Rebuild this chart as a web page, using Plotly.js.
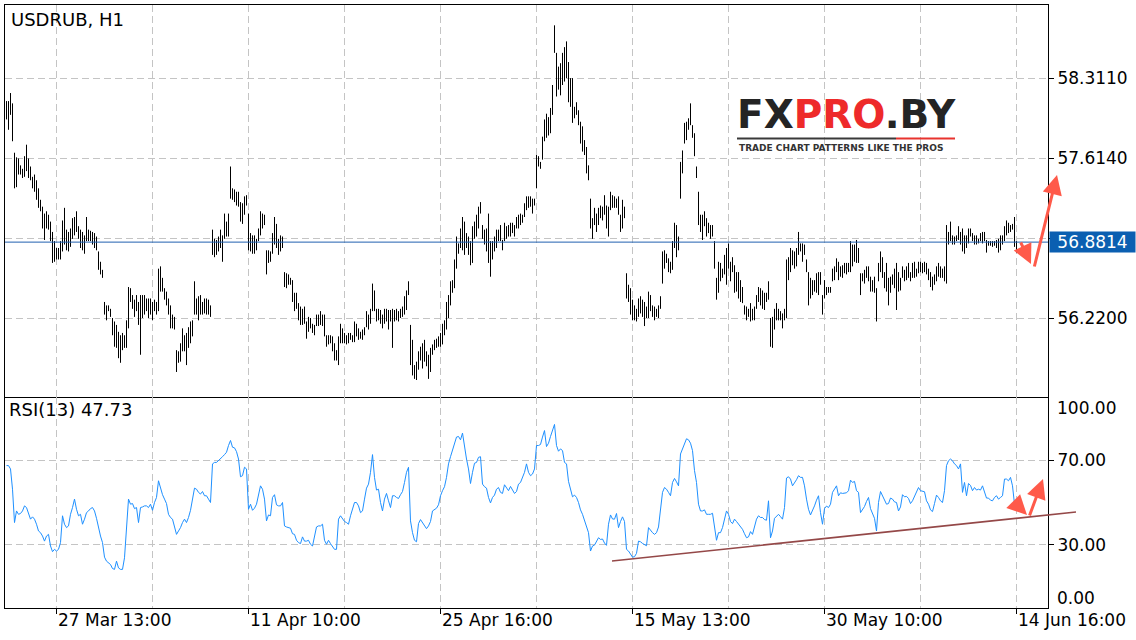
<!DOCTYPE html>
<html><head><meta charset="utf-8">
<script src="https://cdn.plot.ly/plotly-3.0.1.min.js"></script>
<style>html,body{margin:0;padding:0;background:#fff;} #chart{width:1136px;height:640px;}</style>
</head><body><div id="chart"></div>
<script>
const symbolTitle = "USDRUB, H1";
const rsiLabel = "RSI(13) 47.73";
const lastPrice = 56.8814;

// H1 bar highs / lows (only the high-low range is visible at this chart scale)
const highs = [
58.11,58.11,58.18,58.09,57.66,57.62,57.61,57.55,57.52,57.63,
57.73,57.61,57.54,57.45,57.47,57.42,57.35,57.25,57.19,57.13,
57.15,57.12,57.06,56.97,56.89,56.83,56.83,56.89,57.07,57.18,
56.99,56.97,57.00,57.09,57.10,57.15,57.02,56.99,56.97,56.94,
57.10,56.99,56.98,56.97,56.96,56.93,56.80,56.71,56.64,56.36,
56.33,56.33,56.30,56.22,56.19,56.16,56.10,56.07,56.09,56.07,
56.20,56.49,56.48,56.42,56.38,56.42,56.36,56.42,56.42,56.42,
56.39,56.39,56.39,56.36,56.38,56.36,56.65,56.67,56.57,56.48,
56.45,56.39,56.33,56.25,56.23,55.94,55.93,56.00,56.13,56.07,
56.09,56.14,56.19,56.20,56.54,56.39,56.41,56.42,56.36,56.39,
56.39,56.38,56.33,56.99,56.91,56.90,56.93,56.99,56.94,57.13,
57.06,57.13,57.54,57.35,57.34,57.32,57.32,57.23,57.22,57.28,
57.29,57.13,56.96,56.94,56.94,56.91,57.00,57.15,57.13,57.12,
56.81,56.81,56.80,56.96,57.10,57.04,56.91,56.94,56.93,56.62,
56.61,56.60,56.57,56.55,56.44,56.44,56.35,56.32,56.30,56.32,
56.19,56.23,56.22,56.17,56.16,56.25,56.25,56.28,56.25,56.25,
56.07,56.07,56.07,56.06,56.00,55.94,56.06,56.17,56.13,56.09,
56.07,56.09,56.09,56.07,56.19,56.17,56.13,56.10,56.12,56.14,
56.28,56.25,56.30,56.52,56.46,56.30,56.30,56.29,56.25,56.30,
56.30,56.29,56.29,56.30,56.29,56.30,56.28,56.30,56.32,56.41,
56.46,56.54,56.16,56.03,55.81,55.84,55.93,55.97,56.00,56.03,
55.93,55.90,55.96,55.99,56.03,56.04,56.06,56.09,56.17,56.20,
56.36,56.42,56.54,56.55,56.73,56.93,56.87,57.00,57.10,57.06,
56.96,56.93,56.89,57.02,57.06,57.12,57.19,57.23,57.03,56.99,
57.00,57.13,56.89,56.89,56.93,56.99,56.99,57.03,56.90,57.05,
57.02,57.03,57.05,57.05,57.03,57.10,57.12,57.13,57.12,57.22,
57.28,57.28,57.28,57.26,57.26,57.64,57.63,57.58,57.80,57.95,
58.00,57.97,58.05,58.25,58.77,58.53,58.41,58.44,58.53,58.58,
58.63,58.45,58.31,58.31,58.06,58.10,58.03,57.93,57.89,57.77,
57.71,57.55,57.26,57.09,57.18,57.13,57.18,57.20,57.19,57.29,
57.20,57.19,57.32,57.29,57.28,57.26,57.28,57.12,57.25,57.19,
56.61,56.51,56.48,56.38,56.33,56.30,56.39,56.41,56.38,56.36,
56.32,56.45,56.42,56.33,56.32,56.30,56.33,56.41,56.80,56.81,
56.78,56.74,56.71,56.89,57.05,57.03,56.93,57.58,57.68,57.92,
57.93,57.96,58.09,57.90,57.83,57.54,57.32,57.12,57.12,57.15,
57.09,57.05,57.03,57.03,56.89,56.57,56.71,56.70,56.65,56.77,
56.83,56.87,56.71,56.75,56.68,56.62,56.62,56.55,56.49,56.33,
56.32,56.30,56.35,56.30,56.32,56.42,56.49,56.48,56.46,56.44,
56.44,56.54,56.22,56.23,56.30,56.35,56.30,56.28,56.26,56.30,
56.73,56.75,56.83,56.81,56.80,56.83,56.97,56.87,56.87,56.86,
56.73,56.62,56.57,56.55,56.55,56.61,56.62,56.62,56.42,56.55,
56.49,56.49,56.49,56.65,56.67,56.74,56.71,56.67,56.68,56.70,
56.70,56.70,56.89,56.86,56.86,56.90,56.83,56.61,56.61,56.64,
56.67,56.67,56.58,56.55,56.58,56.48,56.70,56.80,56.75,56.62,
56.70,56.57,56.58,56.60,56.65,56.70,56.62,56.57,56.67,56.64,
56.67,56.70,56.62,56.70,56.71,56.65,56.71,56.71,56.70,56.71,
56.70,56.65,56.62,56.58,56.60,56.67,56.70,56.67,56.65,56.67,
57.03,56.97,57.06,56.94,56.93,56.94,57.02,56.97,57.00,56.94,
56.94,57.00,57.00,56.96,56.94,56.94,56.91,56.96,56.97,56.97,
56.90,56.89,56.89,56.89,56.89,56.90,56.91,56.94,56.94,57.02,
57.07,57.05,57.03,57.04,57.10,56.89
];
const lows = [
57.95,57.86,57.99,57.76,57.35,57.36,57.47,57.47,57.44,57.45,
57.50,57.44,57.42,57.35,57.32,57.25,57.18,57.15,57.00,56.90,
57.00,56.99,56.89,56.70,56.71,56.73,56.73,56.73,56.80,56.86,
56.81,56.80,56.84,56.91,56.94,56.97,56.91,56.83,56.81,56.78,
56.89,56.89,56.89,56.86,56.83,56.81,56.64,56.60,56.57,56.25,
56.20,56.28,56.23,56.07,55.97,55.96,55.87,55.83,55.94,55.96,
55.96,56.13,56.36,56.30,56.23,56.28,56.16,55.90,56.22,56.25,
56.28,56.22,56.25,56.20,56.28,56.25,56.28,56.45,56.45,56.38,
56.33,56.25,56.13,56.13,56.12,55.75,55.83,55.84,55.93,55.93,
55.81,55.96,56.00,56.06,56.25,56.25,56.20,56.25,56.25,56.26,
56.25,56.25,56.23,56.77,56.75,56.77,56.80,56.83,56.71,56.91,
56.93,56.93,57.26,57.25,57.23,57.20,57.19,57.06,57.04,57.12,
57.20,56.81,56.80,56.78,56.78,56.81,56.89,56.94,57.00,57.03,
56.60,56.70,56.71,56.78,56.86,56.83,56.77,56.80,56.83,56.49,
56.48,56.51,56.51,56.36,56.28,56.30,56.20,56.16,56.16,56.17,
56.04,56.10,56.13,56.09,56.07,56.15,56.15,56.16,56.15,56.06,
55.97,55.99,56.00,55.93,55.85,55.85,55.81,56.00,56.00,56.00,
55.99,56.00,56.03,56.01,56.01,56.06,56.03,56.04,56.03,56.07,
56.14,56.12,56.17,56.28,56.28,56.19,56.20,56.17,56.13,56.17,
56.19,56.12,56.19,55.96,56.19,56.20,56.19,56.22,56.23,56.25,
56.29,56.42,55.81,55.72,55.69,55.68,55.77,55.85,55.78,55.84,
55.80,55.69,55.75,55.90,55.94,55.96,55.97,55.97,55.99,56.07,
56.12,56.22,56.33,56.44,56.48,56.65,56.78,56.83,56.81,56.77,
56.83,56.77,56.68,56.70,56.91,56.93,57.00,57.13,56.91,56.86,
56.80,56.70,56.58,56.73,56.80,56.83,56.89,56.89,56.81,56.89,
56.91,56.93,56.93,56.96,56.93,57.00,57.00,57.03,57.05,57.10,
57.16,57.18,57.19,57.13,57.20,57.35,57.54,57.52,57.60,57.76,
57.79,57.81,57.83,57.99,58.53,58.15,58.21,58.16,58.25,58.28,
58.31,58.10,58.06,57.92,57.96,57.99,57.90,57.74,57.67,57.64,
57.48,57.42,57.00,56.91,57.03,56.97,57.03,57.09,57.07,57.12,
57.00,56.93,57.16,57.18,57.18,57.18,57.12,56.97,57.00,57.09,
56.39,56.36,56.25,56.20,56.20,56.19,56.23,56.26,56.23,56.15,
56.22,56.22,56.28,56.23,56.20,56.23,56.22,56.30,56.52,56.65,
56.70,56.62,56.61,56.64,56.83,56.75,56.81,57.26,57.48,57.74,
57.77,57.86,57.90,57.79,57.63,57.44,57.03,56.97,56.90,57.02,
56.93,56.96,56.91,56.93,56.65,56.38,56.44,56.54,56.57,56.60,
56.51,56.65,56.54,56.62,56.44,56.45,56.39,56.36,56.35,56.25,
56.20,56.23,56.19,56.20,56.20,56.30,56.36,56.33,56.30,56.29,
56.36,56.38,55.97,55.96,56.12,56.20,56.20,56.20,56.13,56.20,
56.22,56.55,56.62,56.68,56.65,56.67,56.77,56.80,56.71,56.77,
56.62,56.33,56.39,56.42,56.45,56.44,56.42,56.51,56.25,56.39,
56.42,56.44,56.44,56.54,56.55,56.62,56.55,56.58,56.57,56.61,
56.60,56.62,56.62,56.67,56.71,56.70,56.70,56.42,56.54,56.52,
56.57,56.54,56.45,56.45,56.44,56.19,56.54,56.62,56.57,56.48,
56.45,56.33,56.44,56.51,56.48,56.29,56.45,56.46,56.57,56.54,
56.55,56.57,56.54,56.57,56.57,56.58,56.61,56.62,56.61,56.62,
56.60,56.55,56.49,56.46,56.51,56.54,56.58,56.57,56.57,56.54,
56.52,56.86,56.89,56.86,56.86,56.89,56.90,56.86,56.80,56.78,
56.83,56.87,56.93,56.89,56.86,56.86,56.87,56.89,56.87,56.89,
56.79,56.85,56.85,56.84,56.85,56.83,56.79,56.81,56.86,56.89,
56.94,56.96,56.97,56.99,56.84,56.79
];
// RSI(13), one value per bar
const rsiValues = [
67.5,67.5,65.9,56.3,40.5,46.0,44.4,44.8,46.0,48.4,
47.6,44.4,42.1,43.2,42.1,39.7,36.5,35.7,34.1,31.7,
34.1,34.9,29.4,26.7,27.8,27.0,27.8,31.0,43.7,39.7,
38.1,38.9,44.4,47.6,51.6,46.8,43.7,44.4,39.7,42.1,
45.2,46.0,47.1,47.6,46.0,42.5,38.1,34.1,31.0,24.1,
22.2,21.4,20.6,18.7,18.3,22.2,19.0,18.3,18.3,23.8,
40.5,51.6,49.2,49.5,47.1,47.6,40.5,47.6,47.9,48.4,
48.4,47.6,49.2,46.3,50.0,52.4,60.3,56.8,53.7,51.6,
49.5,44.4,42.9,42.1,38.9,34.9,36.5,38.1,40.5,42.1,
40.5,42.9,46.3,50.8,56.8,56.3,54.8,54.0,55.2,53.2,
53.2,51.6,50.0,68.3,69.0,69.0,69.8,70.6,71.7,72.7,
73.8,77.0,79.4,76.2,75.9,74.1,70.6,62.2,62.7,66.7,
65.9,46.8,49.2,46.3,47.3,49.2,54.0,57.9,56.3,51.6,
41.3,44.1,43.7,52.4,53.7,48.9,48.4,48.4,50.0,38.9,
38.4,38.1,37.8,35.2,34.9,32.1,31.0,30.5,33.7,31.7,
31.7,32.1,30.2,29.4,34.1,38.4,38.9,38.9,39.7,32.1,
30.2,32.1,30.5,29.4,27.8,27.8,42.1,43.7,42.5,41.0,
40.5,39.7,43.7,46.8,50.0,50.0,48.4,45.2,46.0,51.6,
56.8,58.7,64.3,72.7,61.9,55.9,56.3,50.0,46.0,51.6,
54.3,50.8,47.6,53.2,53.2,52.4,51.9,53.7,55.2,59.5,
64.3,66.7,41.3,35.7,32.1,31.4,40.0,41.9,40.5,38.6,
37.6,38.9,41.0,46.0,46.8,47.3,48.9,53.2,55.6,57.5,
61.9,68.3,71.7,74.6,78.6,81.0,81.3,79.7,82.9,76.2,
70.6,65.9,59.0,64.3,68.6,69.0,71.4,71.7,58.7,57.5,
56.8,52.4,49.8,52.4,53.5,56.3,57.1,54.8,54.3,58.4,
56.8,55.6,57.6,55.9,54.3,55.2,58.7,59.5,61.6,64.3,
68.3,64.3,62.7,63.5,65.9,77.0,77.0,77.5,81.0,84.1,
76.5,78.1,81.3,84.4,87.0,77.0,74.3,75.4,74.6,69.0,
68.3,60.0,55.9,52.7,53.5,52.4,50.0,46.5,44.4,41.3,
39.2,35.7,27.0,29.4,29.8,31.4,33.3,32.5,32.7,30.8,
29.7,39.7,44.1,42.2,42.1,44.8,38.1,41.0,43.2,41.0,
27.8,27.0,25.4,24.1,24.3,25.9,31.7,31.4,30.6,30.2,
29.5,38.1,36.8,35.7,34.9,35.7,38.4,46.8,54.8,57.1,
56.3,54.8,53.2,59.5,61.4,59.8,57.9,73.0,75.4,78.3,
80.2,79.7,78.1,74.6,65.1,59.5,49.2,46.0,46.0,46.5,
44.4,44.4,44.4,44.9,37.3,32.1,35.7,35.7,38.1,41.6,
46.0,44.4,41.0,40.0,42.1,41.0,39.7,38.9,37.3,35.2,
33.3,33.7,36.2,34.9,38.4,42.1,43.7,42.9,42.9,41.9,
41.6,50.8,33.3,36.5,42.5,43.7,44.4,43.3,42.1,47.6,
61.6,62.2,61.1,57.9,59.2,60.8,62.7,61.9,61.9,57.9,
51.6,46.8,44.1,46.0,48.4,51.1,53.2,45.2,39.7,47.1,
48.3,47.6,49.2,54.8,56.7,57.9,53.2,54.6,54.3,54.3,
54.6,55.6,60.6,59.5,60.0,55.6,54.8,45.2,46.5,48.1,
50.5,52.4,47.1,44.4,42.5,36.5,50.0,55.2,53.2,50.5,
49.2,49.5,52.1,51.6,50.3,50.0,46.0,47.9,53.7,52.7,
52.9,51.9,49.5,50.8,52.7,54.8,57.1,55.6,55.2,55.1,
50.8,49.2,46.5,45.7,49.5,53.5,52.4,50.8,50.0,55.6,
67.5,69.8,70.6,69.8,68.3,67.5,65.9,68.3,54.8,59.5,
53.2,59.0,58.1,55.6,57.1,55.9,56.3,55.9,57.9,54.8,
52.1,52.1,51.1,50.8,52.4,53.2,51.6,52.4,53.2,61.1,
61.1,60.3,61.9,57.9,49.2,47.73
];

const dateTickIdx = [25, 121, 217, 313, 409, 505];
const dateTickText = ["27 Mar 13:00", "11 Apr 10:00", "25 Apr 16:00", "15 May 13:00", "30 May 10:00", "14 Jun 16:00"];
const gridIdx = [25, 73, 121, 169, 217, 265, 313, 361, 409, 457, 505];
const priceTickVals = [56.22, 56.917, 57.614, 58.311];
const priceTickText = ["56.2200", "", "57.6140", "58.3110"];
const rsiTickVals = [30, 70];
const rsiTickText = ["30.00", "70.00"];
const rsiEndText = ["100.00", "0.00"];

const barIdx = highs.map((_, i) => i);

// pixel -> paper helpers for decorations (plot area x 5..1048, y 5..608)
const PX = X => (X - 5) / 1043;
const PY = Y => (608 - Y) / 603;

const FONT = "DejaVu Sans";
const gridColor = "#c4c4c4";
const splitY = PY(397);

const traces = [
  {
    type: "ohlc", x: barIdx, open: highs, high: highs, low: lows, close: lows,
    xaxis: "x", yaxis: "y", tickwidth: 0,
    increasing: { line: { color: "#000", width: 1 } },
    decreasing: { line: { color: "#000", width: 1 } },
    hoverinfo: "skip"
  },
  {
    type: "scatter", mode: "lines", x: barIdx, y: rsiValues,
    xaxis: "x2", yaxis: "y2", line: { color: "#1e90ff", width: 1 },
    hoverinfo: "skip"
  }
];

const xCommon = {
  range: [-0.75, 520.75], showline: true, linecolor: "#000", linewidth: 1,
  tickmode: "array", tickvals: dateTickIdx, showticklabels: false,
  showgrid: true, gridcolor: gridColor, griddash: "7px,4px", gridwidth: 1, zeroline: false,
  minor: { tickmode: "array", tickvals: gridIdx, showgrid: true, gridcolor: gridColor, griddash: "7px,4px", gridwidth: 1, ticks: "" },
  fixedrange: true
};

const annotations = [
  { text: symbolTitle, xref: "paper", yref: "paper", x: PX(9), y: PY(19), xanchor: "left", yanchor: "middle", showarrow: false, font: { family: FONT, size: 18, color: "#000" } },
  { text: rsiLabel, xref: "paper", yref: "paper", x: PX(7), y: PY(410), xanchor: "left", yanchor: "middle", showarrow: false, font: { family: FONT, size: 18, color: "#000" } },
  { text: rsiEndText[0], xref: "paper", yref: "paper", x: PX(1055), y: PY(408), xanchor: "left", yanchor: "middle", showarrow: false, font: { family: FONT, size: 17, color: "#000" } },
  { text: rsiEndText[1], xref: "paper", yref: "paper", x: PX(1055), y: PY(598), xanchor: "left", yanchor: "middle", showarrow: false, font: { family: FONT, size: 17, color: "#000" } },
  { text: lastPrice.toFixed(4), xref: "paper", yref: "y", x: PX(1049), y: lastPrice, xanchor: "left", yanchor: "middle", showarrow: false, bgcolor: "#0b5fb1", width: 85, height: 20, borderpad: 0, align: "center", font: { family: FONT, size: 17, color: "#fff" } },
  // logo
  { text: '<b>FX<span style="color:#ee2a2a">PRO</span>.BY</b>', xref: "paper", yref: "paper", x: PX(846), y: PY(115), xanchor: "center", yanchor: "middle", showarrow: false, font: { family: FONT, size: 39, color: "#242424" } },
  { text: "<b>TRADE CHART PATTERNS LIKE THE PROS</b>", xref: "paper", yref: "paper", x: PX(841), y: PY(148), xanchor: "center", yanchor: "middle", showarrow: false, font: { family: FONT, size: 9, color: "#333" } },
  // arrows
  { text: "", xref: "paper", yref: "paper", x: PX(1031), y: PY(264), ax: -11, ay: -23, showarrow: true, arrowhead: 2, arrowsize: 1.3, arrowwidth: 3, arrowcolor: "#ff5a4a", standoff: 0 },
  { text: "", xref: "paper", yref: "paper", x: PX(1057), y: PY(175), ax: -23, ay: 93, showarrow: true, arrowhead: 2, arrowsize: 1.3, arrowwidth: 3, arrowcolor: "#ff5a4a", standoff: 0 },
  { text: "", xref: "paper", yref: "paper", x: PX(1027), y: PY(515), ax: -12, ay: -12, showarrow: true, arrowhead: 2, arrowsize: 1.3, arrowwidth: 3, arrowcolor: "#ff5a4a", standoff: 0 },
  { text: "", xref: "paper", yref: "paper", x: PX(1043), y: PY(479), ax: -14, ay: 38, showarrow: true, arrowhead: 2, arrowsize: 1.3, arrowwidth: 3, arrowcolor: "#ff5a4a", standoff: 0 }
];
dateTickIdx.forEach((idx, k) => {
  annotations.push({ text: dateTickText[k], xref: "x2", yref: "paper", x: idx, y: PY(620), xanchor: "left", yanchor: "middle", xshift: -1, showarrow: false, font: { family: FONT, size: 17, color: "#000" } });
});

const shapes = [
  { type: "line", xref: "paper", yref: "y", x0: 0, x1: 1, y0: lastPrice, y1: lastPrice, line: { color: "#1f60b0", width: 1 } },
  { type: "line", xref: "paper", yref: "paper", x0: PX(612), y0: PY(561), x1: PX(1076), y1: PY(512), line: { color: "#944848", width: 1.6 } },
  { type: "line", xref: "paper", yref: "paper", x0: PX(737), y0: PY(138.5), x1: PX(896), y1: PY(138.5), line: { color: "#3a3a3a", width: 2 } },
  { type: "line", xref: "paper", yref: "paper", x0: PX(896), y0: PY(138.5), x1: PX(955), y1: PY(138.5), line: { color: "#e8332e", width: 2 } }
];

const layout = {
  width: 1136, height: 640,
  margin: { l: 5, r: 88, t: 5, b: 32 },
  paper_bgcolor: "#fff", plot_bgcolor: "#fff",
  showlegend: false,
  font: { family: FONT, size: 17, color: "#000" },
  // main x axis draws the separator (bottom) and the top frame; RSI x axis only the bottom frame
  xaxis: Object.assign({}, xCommon, { anchor: "y", domain: [0, 1], mirror: true, ticks: "", rangeslider: { visible: false } }),
  xaxis2: Object.assign({}, xCommon, { anchor: "y2", domain: [0, 1], mirror: false, ticks: "outside", ticklen: 5, tickcolor: "#000" }),
  yaxis: {
    domain: [splitY, 1], range: [55.532, 58.947], side: "right", anchor: "x",
    tickmode: "array", tickvals: priceTickVals, ticktext: priceTickText,
    ticks: "outside", ticklen: 5, tickcolor: "#000",
    showgrid: true, gridcolor: gridColor, griddash: "7px,4px", zeroline: false,
    showline: true, mirror: true, linecolor: "#000", linewidth: 1,
    tickfont: { family: FONT, size: 17, color: "#000" }, fixedrange: true
  },
  yaxis2: {
    domain: [0, splitY], range: [0, 100], side: "right", anchor: "x2",
    tickmode: "array", tickvals: rsiTickVals, ticktext: rsiTickText,
    ticks: "outside", ticklen: 5, tickcolor: "#000",
    showgrid: true, gridcolor: gridColor, griddash: "7px,4px", zeroline: false,
    showline: true, mirror: true, linecolor: "#000", linewidth: 1,
    tickfont: { family: FONT, size: 17, color: "#000" }, fixedrange: true
  },
  annotations: annotations,
  shapes: shapes
};

Plotly.newPlot("chart", traces, layout, { staticPlot: true, displayModeBar: false });
</script>
</body></html>
